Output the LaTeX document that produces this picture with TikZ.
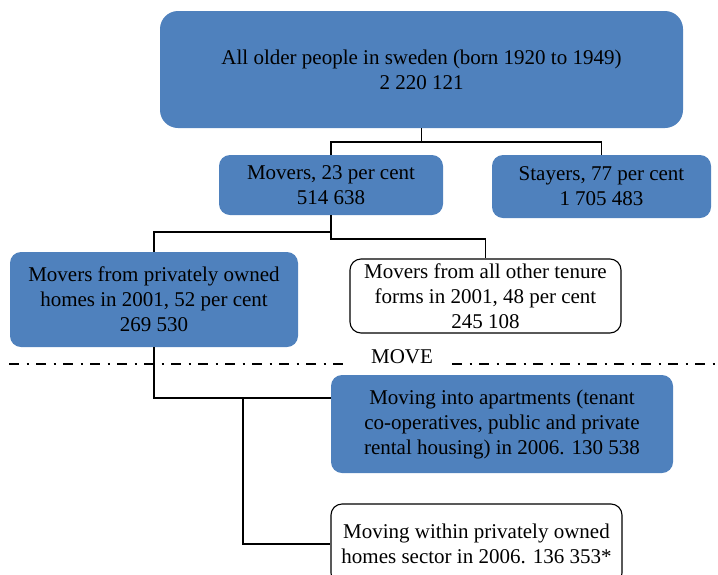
\documentclass[tikz,border=0pt]{standalone}
\usepackage{fontspec}
\setmainfont{Liberation Serif}
\definecolor{boxblue}{HTML}{4F81BD}
\begin{document}
\begin{tikzpicture}[x=1pt,y=-1pt,
  txt/.style={font=\fontsize{21}{25}\selectfont, align=center, inner sep=0pt},
  bluebox/.style={txt, rectangle, rounded corners=11pt, fill=boxblue, draw=none},
  whitebox/.style={txt, rectangle, rounded corners=11pt, fill=white, draw=black, line width=1.1pt},
  conn/.style={draw=black, line width=1.1pt},
  dashline/.style={draw=black, line width=2pt, dash pattern=on 10pt off 7.5pt on 2pt off 7.5pt}]
\useasboundingbox (0,0) rectangle (718,574);
\node[bluebox, rounded corners=18pt, minimum width=523pt, minimum height=117pt] (top) at (421.5,69.5) {All older people in sweden (born 1920 to 1949)\\2 220 121};
\node[bluebox, minimum width=224pt, minimum height=60pt] (movers) at (331,185) {Movers, 23 per cent\\514 638};
\node[bluebox, minimum width=219pt, minimum height=63pt] (stayers) at (601.5,186.5) {Stayers, 77 per cent\\1 705 483};
\node[bluebox, minimum width=288pt, minimum height=95pt] (private) at (154,299.5) {Movers from privately owned\\homes in 2001, 52 per cent\\269 530};
\node[whitebox, minimum width=271pt, minimum height=74pt] (other) at (485.5,296) {Movers from all other tenure\\forms in 2001, 48 per cent\\245 108};
\node[bluebox, minimum width=342pt, minimum height=98pt] (apart) at (502,424) {Moving into apartments (tenant\\co-operatives, public and private\\rental housing) in 2006. 130 538};
\node[whitebox, minimum width=291pt, minimum height=80pt] (within) at (476.5,544) {Moving within privately owned\\homes sector in 2006. 136 353*};
% connectors
\coordinate (j1) at (421.5,142);
\draw[conn] (top.south) -- (j1);
\draw[conn] (movers.north) |- (j1) -| (stayers.north);
\coordinate (m1) at (331,232);
\coordinate (m2) at (331,239);
\draw[conn] (movers.south) -- (m2) -| (other.north);
\draw[conn] (m1) -| (private.north);
\coordinate (p1) at (154,398);
\coordinate (p2) at (243,398);
\draw[conn] (private.south) -- (p1) -- (apart.west |- p1);
\draw[conn] (p2) |- (within.west);
% move line
\node[txt] (move) at (402,357) {MOVE};
\coordinate (d1) at (9,363.5);
\coordinate (d2) at (349,363.5);
\coordinate (d3) at (452,363.5);
\coordinate (d4) at (718,363.5);
\draw[dashline] (d1) -- (d2);
\draw[dashline] (d3) -- (d4);
\end{tikzpicture}
\end{document}
